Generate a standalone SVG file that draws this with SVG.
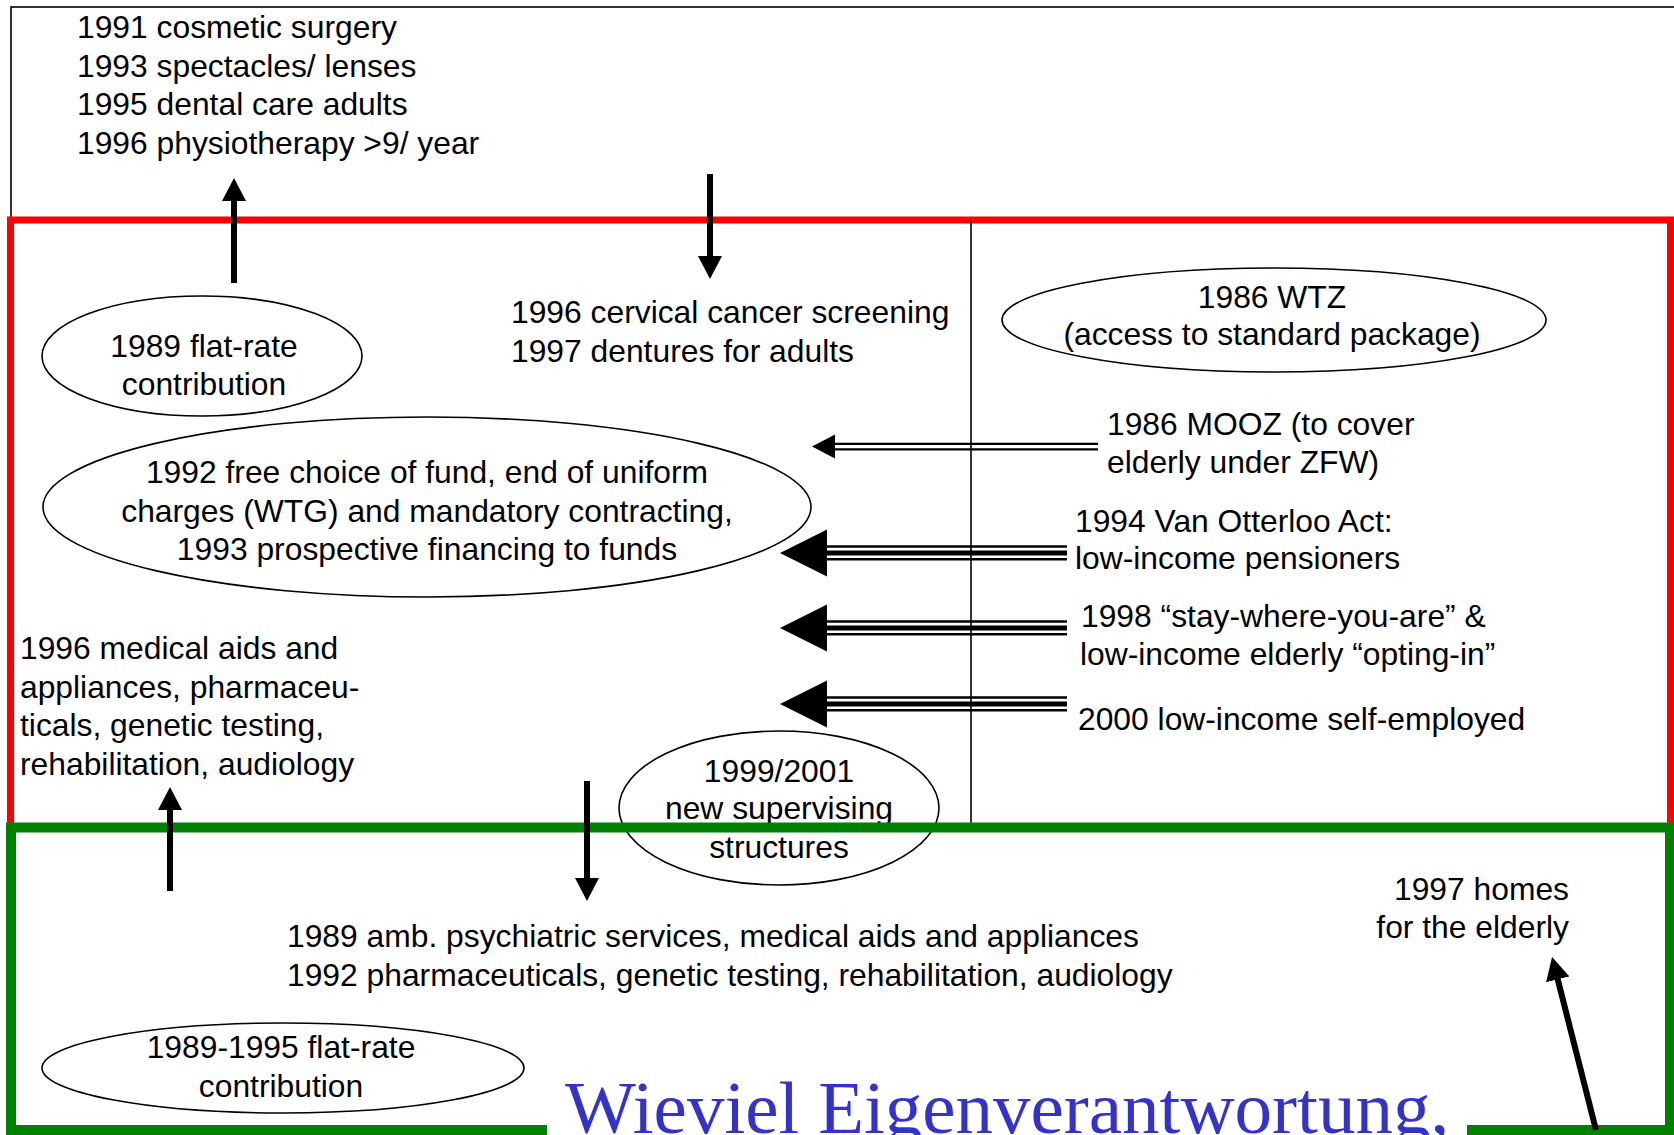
<svg xmlns="http://www.w3.org/2000/svg" width="1674" height="1135" viewBox="0 0 1674 1135">
<style>
.t{font-family:"Liberation Sans",Arial,sans-serif;font-size:31.8px;fill:#000}
.m{text-anchor:middle}
.e{text-anchor:end}
.el{fill:none;stroke:#000;stroke-width:1.6}
.shaft{stroke:#000;stroke-width:6;fill:none}
.thin{stroke:#000;fill:none}
.head{fill:#000}
.title{font-family:"Liberation Serif","Times New Roman",serif;font-size:75px;fill:#3333CC}
</style>
<defs>
<marker id="ah" markerUnits="userSpaceOnUse" viewBox="0 0 23 24" refX="3" refY="12" markerWidth="23" markerHeight="24" orient="auto">
<path d="M0,0 L23,12 L0,24 Z" fill="#000"/>
</marker>
</defs>
<rect width="1674" height="1135" fill="#fff"/>
<g id="frames">
<rect id="top-box" x="11" y="7" width="1700" height="214" fill="none" stroke="#000" stroke-width="1.6"/>
<rect id="red-box" x="10.5" y="220" width="1660" height="607" fill="none" stroke="#FF0000" stroke-width="7"/>
<line id="divider" x1="971" y1="221" x2="971" y2="825" stroke="#000" stroke-width="1.6"/>
</g>
<g id="top-list">
<text class="t" x="77" y="38">1991 cosmetic surgery</text>
<text class="t" x="77" y="77">1993 spectacles/ lenses</text>
<text class="t" x="77" y="115">1995 dental care adults</text>
<text class="t" x="77" y="154">1996 physiotherapy &gt;9/ year</text>
</g>
<g id="cervical">
<text class="t" x="511" y="323">1996 cervical cancer screening</text>
<text class="t" x="511" y="362">1997 dentures for adults</text>
</g>
<g id="flat-rate-1989">
<ellipse class="el" cx="202" cy="356" rx="160" ry="60"/>
<text class="t m" x="204" y="357">1989 flat-rate</text>
<text class="t m" x="204" y="395">contribution</text>
</g>
<g id="wtz">
<ellipse class="el" cx="1274" cy="320" rx="272" ry="52"/>
<text class="t m" x="1272" y="308">1986 WTZ</text>
<text class="t m" x="1272" y="345">(access to standard package)</text>
</g>
<g id="free-choice">
<ellipse class="el" cx="427" cy="507" rx="384" ry="90"/>
<text class="t m" x="427" y="483">1992 free choice of fund, end of uniform</text>
<text class="t m" x="427" y="522">charges (WTG) and mandatory contracting,</text>
<text class="t m" x="427" y="560">1993 prospective financing to funds</text>
</g>
<g id="mooz">
<text class="t" x="1107" y="435">1986 MOOZ (to cover</text>
<text class="t" x="1107" y="473">elderly under ZFW)</text>
</g>
<g id="van-otterloo">
<text class="t" x="1075" y="532">1994 Van Otterloo Act:</text>
<text class="t" x="1075" y="569">low-income pensioners</text>
</g>
<g id="stay-where">
<text class="t" x="1081" y="627">1998 “stay-where-you-are” &amp;</text>
<text class="t" x="1080" y="665">low-income elderly “opting-in”</text>
</g>
<g id="self-employed">
<text class="t" x="1078" y="730">2000 low-income self-employed</text>
</g>
<g id="medical-aids-1996">
<text class="t" x="20" y="659">1996 medical aids and</text>
<text class="t" x="20" y="697.5">appliances, pharmaceu-</text>
<text class="t" x="20" y="736">ticals, genetic testing,</text>
<text class="t" x="20" y="774.5">rehabilitation, audiology</text>
</g>
<g id="supervising">
<ellipse class="el" cx="779" cy="808" rx="160" ry="77"/>
<text class="t m" x="779" y="782">1999/2001</text>
<text class="t m" x="779" y="819">new supervising</text>
<text class="t m" x="779" y="858">structures</text>
</g>
<g id="green-frame">
<rect id="green-box" x="11" y="827.5" width="1659" height="302.5" fill="none" stroke="#008000" stroke-width="10"/>
<rect x="547" y="1118" width="920" height="17" fill="#fff"/>
</g>
<g id="amb-psych">
<text class="t" x="287" y="947">1989 amb. psychiatric services, medical aids and appliances</text>
<text class="t" x="287" y="986">1992 pharmaceuticals, genetic testing, rehabilitation, audiology</text>
</g>
<g id="homes-elderly">
<text class="t e" x="1569" y="900">1997 homes</text>
<text class="t e" x="1569" y="938">for the elderly</text>
</g>
<g id="flat-rate-1989-1995">
<ellipse class="el" cx="283" cy="1068" rx="241" ry="45"/>
<text class="t m" x="281" y="1058">1989-1995 flat-rate</text>
<text class="t m" x="281" y="1097">contribution</text>
</g>
<g id="title">
<text class="title" x="565" y="1133">Wieviel Eigenverantwortung,</text>
</g>
<g id="connectors">
<line class="shaft" x1="234" y1="283" x2="234" y2="198" marker-end="url(#ah)"/>
<line class="shaft" x1="710" y1="174" x2="710" y2="259" marker-end="url(#ah)"/>
<line class="shaft" x1="170" y1="891" x2="170" y2="807" marker-end="url(#ah)"/>
<line class="shaft" x1="587" y1="781" x2="587" y2="881" marker-end="url(#ah)"/>
<line class="shaft" x1="1596" y1="1130" x2="1557" y2="976.4" marker-end="url(#ah)"/>
<g id="arrow-mooz">
<line class="thin" x1="834" y1="443.8" x2="1098" y2="443.8" stroke-width="2.2"/>
<line class="thin" x1="834" y1="449.3" x2="1098" y2="449.3" stroke-width="2.2"/>
<path class="head" d="M812,446.5 L835,434.5 L835,458.5 Z"/>
</g>
<g id="arrow-vo">
<line class="thin" x1="825" y1="546.5" x2="1067" y2="546.5" stroke-width="2.6"/>
<line class="thin" x1="825" y1="553" x2="1067" y2="553" stroke-width="5"/>
<line class="thin" x1="825" y1="559.3" x2="1067" y2="559.3" stroke-width="2.6"/>
<path class="head" d="M780,553 L827,529.5 L827,576.5 Z"/>
</g>
<g id="arrow-stay">
<line class="thin" x1="825" y1="621.5" x2="1067" y2="621.5" stroke-width="2.6"/>
<line class="thin" x1="825" y1="628" x2="1067" y2="628" stroke-width="5"/>
<line class="thin" x1="825" y1="634.3" x2="1067" y2="634.3" stroke-width="2.6"/>
<path class="head" d="M780,628 L827,604.5 L827,651.5 Z"/>
</g>
<g id="arrow-self">
<line class="thin" x1="825" y1="697.5" x2="1067" y2="697.5" stroke-width="2.6"/>
<line class="thin" x1="825" y1="704" x2="1067" y2="704" stroke-width="5"/>
<line class="thin" x1="825" y1="710.3" x2="1067" y2="710.3" stroke-width="2.6"/>
<path class="head" d="M780,704 L827,680.5 L827,727.5 Z"/>
</g>
</g>
</svg>
